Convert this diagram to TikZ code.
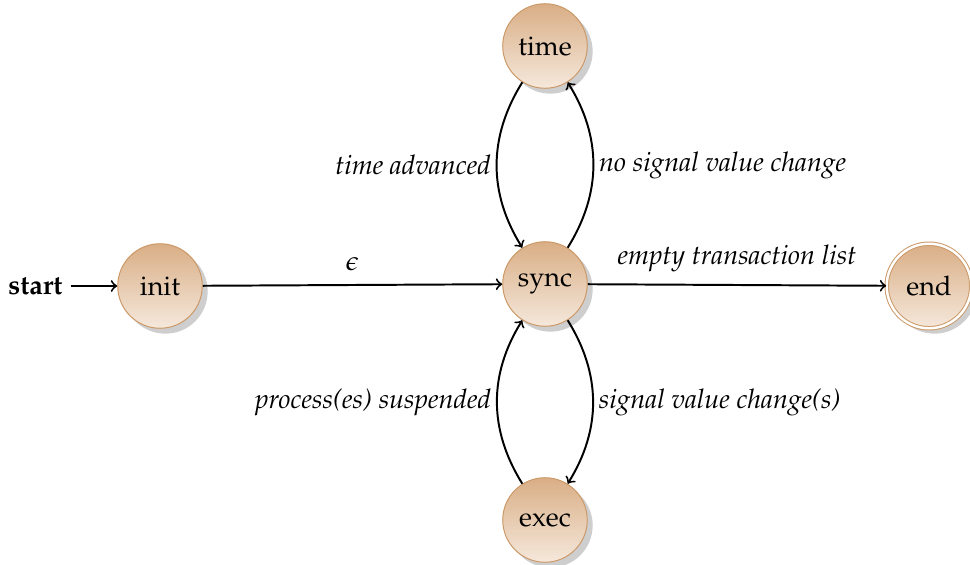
\documentclass[tikz,border=0pt]{standalone}
\usepackage[T1]{fontenc}
\usepackage{mathpazo}
\usetikzlibrary{shadows}

\definecolor{statetop}{HTML}{D9AE86}
\definecolor{statebot}{HTML}{F5E8DB}
\definecolor{stateborder}{HTML}{CB9866}

\newcommand{\lblsize}{\fontsize{11}{13}\selectfont}

\tikzset{
  x=0.408pt, y=-0.408pt,
  stnode/.style={circle, draw=stateborder, thin, top color=statetop, bottom color=statebot,
    minimum size=34.5pt, inner sep=0pt, font=\lblsize,
    drop shadow={fill=black!38, shadow xshift=2.2pt, shadow yshift=-2.2pt}},
  accnode/.style={stnode, double=white, double distance=1pt},
  trans/.style={->, line width=0.8pt, >=to},
  lbl/.style={font=\lblsize\itshape, inner sep=2pt},
}

\begin{document}
\begin{tikzpicture}
  \useasboundingbox (0,0) rectangle (970,565);

  \node[stnode] (init) at (160,286) {init};
  \node[stnode] (sync) at (545,284) {sync};
  \node[stnode] (time) at (545,46) {time};
  \node[stnode] (exec) at (545,520) {exec};
  \node[accnode] (end) at (929,286) {end};

  \node[font=\lblsize\fontseries{b}\selectfont, anchor=east] (start) at (71,286) {start};

  \draw[trans] (start) -- (init);
  \draw[trans] (init) -- node[above=2pt, font=\lblsize] {$\epsilon$} (sync);
  \draw[trans] (sync) -- node[above=3pt, lbl] {empty transaction list} (end);
  \draw[trans] (time) to[bend right=32] node[left, lbl] {time advanced} (sync);
  \draw[trans] (sync) to[bend right=32] node[right, lbl] {no signal value change} (time);
  \draw[trans] (sync) to[bend left=32] node[right, lbl] {signal value change(s)} (exec);
  \draw[trans] (exec) to[bend left=32] node[left, lbl] {process(es) suspended} (sync);
\end{tikzpicture}
\end{document}
